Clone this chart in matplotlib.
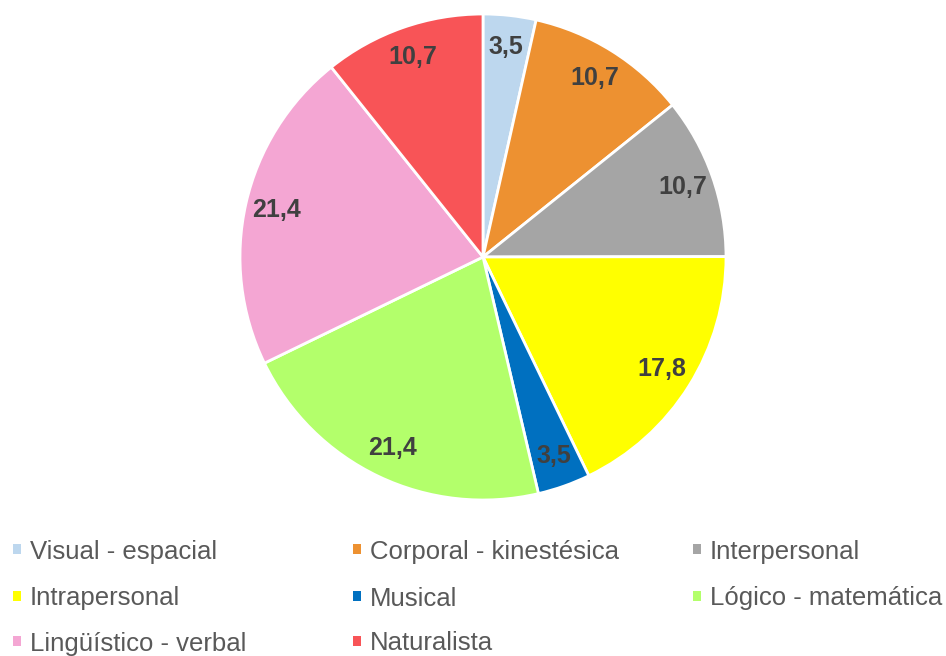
import matplotlib.pyplot as plt
from matplotlib.patches import Rectangle

plt.rcParams['font.family'] = ['Liberation Sans', 'DejaVu Sans']

# data
categories = ['Visual - espacial', 'Corporal - kinestésica', 'Interpersonal',
              'Intrapersonal', 'Musical', 'Lógico - matemática',
              'Lingüístico - verbal', 'Naturalista']
values = [3.5, 10.7, 10.7, 17.8, 3.5, 21.4, 21.4, 10.7]
colors = ['#BDD7EE', '#ED9131', '#A5A5A5', '#FFFF00', '#0070C0',
          '#B3FF6B', '#F4A6D3', '#F85457']

fig = plt.figure(figsize=(9.46, 6.56), dpi=100)

# pie
ax = fig.add_axes([240 / 946, 1 - 500 / 656, 486 / 946, 486 / 656])
labels = [f"{v:.1f}".replace('.', ',') for v in values]
wedges, texts = ax.pie(values, colors=colors, startangle=90, counterclock=False,
                       labels=labels, labeldistance=0.87,
                       wedgeprops=dict(edgecolor='white', linewidth=2))
for t in texts:
    t.set_ha('center')
    t.set_va('center')
    t.set_fontsize(18)
    t.set_fontweight('bold')
    t.set_color('#404040')
ax.set_xlim(-1.0, 1.0)
ax.set_ylim(-1.0, 1.0)
ax.set_aspect('equal')

# legend drawn in pixel coords
lax = fig.add_axes([0, 0, 1, 1])
lax.set_xlim(0, 946)
lax.set_ylim(656, 0)
lax.axis('off')
col_x = [13, 353, 693]
row_y = [549, 596, 641]
for i, (lab, c) in enumerate(zip(categories, colors)):
    x = col_x[i % 3]
    y = row_y[i // 3]
    lax.add_patch(Rectangle((x, y - 5), 8, 10, facecolor=c, edgecolor='none'))
    lax.text(x + 17, y, lab, fontsize=18.5, color='#595959', va='center_baseline', ha='left')

fig.savefig('out.png', dpi=100)
